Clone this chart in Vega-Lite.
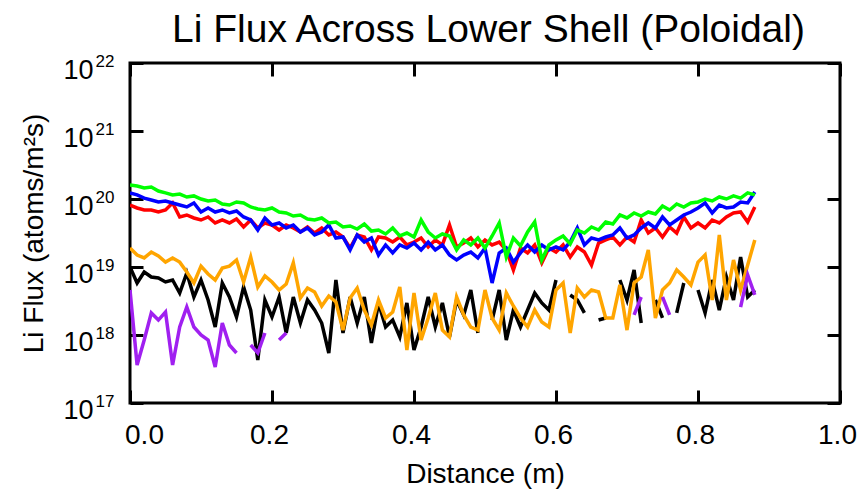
{
"$schema": "https://vega.github.io/schema/vega-lite/v6.json",
"width": 710, "height": 340,
"autosize": "none",
"padding": {"left": 130, "top": 63, "right": 23, "bottom": 89},
"background": "white",
"config": {"view": {"stroke": "black", "strokeWidth": 3}, "font": "Liberation Sans"},
"data": {"values": [
{"s":"black","x":0.00,"y":1.00e19},{"s":"black","x":0.01,"y":5.82e18},{"s":"black","x":0.02,"y":8.45e18},{"s":"black","x":0.03,"y":7.13e18},{"s":"black","x":0.04,"y":6.89e18},{"s":"black","x":0.05,"y":6.02e18},{"s":"black","x":0.06,"y":6.44e18},{"s":"black","x":0.07,"y":4.15e18},{"s":"black","x":0.08,"y":8.16e18},{"s":"black","x":0.09,"y":3.62e18},
{"s":"black","x":0.10,"y":6.44e18},{"s":"black","x":0.11,"y":3.27e18},{"s":"black","x":0.12,"y":1.31e18},{"s":"black","x":0.13,"y":5.82e18},{"s":"black","x":0.14,"y":3.62e18},{"s":"black","x":0.15,"y":1.84e18},{"s":"black","x":0.16,"y":5.08e18},{"s":"black","x":0.17,"y":2.33e18},{"s":"black","x":0.18,"y":4.29e17},{"s":"black","x":0.19,"y":3.27e18},
{"s":"black","x":0.20,"y":1.84e18},{"s":"black","x":0.21,"y":3.62e18},{"s":"black","x":0.22,"y":1.07e18},{"s":"black","x":0.23,"y":3.62e18},{"s":"black","x":0.24,"y":1.50e18},{"s":"black","x":0.25,"y":3.27e18},{"s":"black","x":0.26,"y":2.33e18},{"s":"black","x":0.27,"y":1.50e18},{"s":"black","x":0.28,"y":5.44e17},{"s":"black","x":0.29,"y":6.44e18},
{"s":"black","x":0.30,"y":1.07e18},{"s":"black","x":0.31,"y":3.62e18},{"s":"black","x":0.32,"y":1.50e18},{"s":"black","x":0.33,"y":3.62e18},{"s":"black","x":0.34,"y":7.63e17},{"s":"black","x":0.35,"y":2.96e18},{"s":"black","x":0.36,"y":1.31e18},{"s":"black","x":0.37,"y":1.66e18},{"s":"black","x":0.38,"y":9.35e17},{"s":"black","x":0.39,"y":2.96e18},
{"s":"black","x":0.40,"y":6.02e17},{"s":"black","x":0.41,"y":1.31e18},{"s":"black","x":0.42,"y":3.62e18},{"s":"black","x":0.43,"y":1.31e18},{"s":"black","x":0.44,"y":2.96e18},{"s":"black","x":0.45,"y":9.35e17},{"s":"black","x":0.46,"y":3.27e18},{"s":"black","x":0.47,"y":1.97e18},{"s":"black","x":0.48,"y":4.59e18},{"s":"black","x":0.49,"y":1.07e18},
{"s":"black","x":0.50,"y":null},{"s":"black","x":0.51,"y":1.66e18},{"s":"black","x":0.52,"y":4.59e18},{"s":"black","x":0.53,"y":8.45e17},{"s":"black","x":0.54,"y":2.33e18},{"s":"black","x":0.55,"y":1.31e18},{"s":"black","x":0.56,"y":2.33e18},{"s":"black","x":0.57,"y":4.15e18},{"s":"black","x":0.58,"y":2.96e18},{"s":"black","x":0.59,"y":2.33e18},
{"s":"black","x":0.60,"y":6.44e18},{"s":"black","x":0.61,"y":null},{"s":"black","x":0.62,"y":3.88e18},{"s":"black","x":0.63,"y":3.27e18},{"s":"black","x":0.64,"y":2.11e18},{"s":"black","x":0.65,"y":null},{"s":"black","x":0.66,"y":1.66e18},{"s":"black","x":0.67,"y":1.78e18},{"s":"black","x":0.68,"y":null},{"s":"black","x":0.69,"y":6.44e18},
{"s":"black","x":0.70,"y":3.27e18},{"s":"black","x":0.71,"y":9.04e18},{"s":"black","x":0.72,"y":1.50e18},{"s":"black","x":0.73,"y":null},{"s":"black","x":0.74,"y":3.27e18},{"s":"black","x":0.75,"y":1.78e18},{"s":"black","x":0.76,"y":null},{"s":"black","x":0.77,"y":2.11e18},{"s":"black","x":0.78,"y":5.82e18},{"s":"black","x":0.79,"y":null},
{"s":"black","x":0.80,"y":4.59e18},{"s":"black","x":0.81,"y":2.11e18},{"s":"black","x":0.82,"y":6.44e18},{"s":"black","x":0.83,"y":2.33e18},{"s":"black","x":0.84,"y":7.13e18},{"s":"black","x":0.85,"y":3.27e18},{"s":"black","x":0.86,"y":1.40e19},{"s":"black","x":0.87,"y":3.62e18},{"s":"black","x":0.88,"y":4.59e18},
{"s":"orange","x":0.00,"y":1.90e19},{"s":"orange","x":0.01,"y":1.50e19},{"s":"orange","x":0.02,"y":1.36e19},{"s":"orange","x":0.03,"y":1.66e19},{"s":"orange","x":0.04,"y":1.45e19},{"s":"orange","x":0.05,"y":1.18e19},{"s":"orange","x":0.06,"y":1.36e19},{"s":"orange","x":0.07,"y":1.18e19},{"s":"orange","x":0.08,"y":8.45e18},{"s":"orange","x":0.09,"y":5.82e18},
{"s":"orange","x":0.10,"y":1.03e19},{"s":"orange","x":0.11,"y":7.89e18},{"s":"orange","x":0.12,"y":6.44e18},{"s":"orange","x":0.13,"y":9.67e18},{"s":"orange","x":0.14,"y":1.03e19},{"s":"orange","x":0.15,"y":1.27e19},{"s":"orange","x":0.16,"y":6.02e18},{"s":"orange","x":0.17,"y":1.40e19},{"s":"orange","x":0.18,"y":5.08e18},{"s":"orange","x":0.19,"y":7.38e18},
{"s":"orange","x":0.20,"y":6.02e18},{"s":"orange","x":0.21,"y":4.59e18},{"s":"orange","x":0.22,"y":5.62e18},{"s":"orange","x":0.23,"y":1.15e19},{"s":"orange","x":0.24,"y":3.50e18},{"s":"orange","x":0.25,"y":4.91e18},{"s":"orange","x":0.26,"y":4.29e18},{"s":"orange","x":0.27,"y":2.67e18},{"s":"orange","x":0.28,"y":3.75e18},{"s":"orange","x":0.29,"y":3.06e18},
{"s":"orange","x":0.30,"y":1.18e18},{"s":"orange","x":0.31,"y":3.50e18},{"s":"orange","x":0.32,"y":4.91e18},{"s":"orange","x":0.33,"y":2.33e18},{"s":"orange","x":0.34,"y":1.40e18},{"s":"orange","x":0.35,"y":3.27e18},{"s":"orange","x":0.36,"y":1.78e18},{"s":"orange","x":0.37,"y":2.18e18},{"s":"orange","x":0.38,"y":5.08e18},{"s":"orange","x":0.39,"y":6.02e17},
{"s":"orange","x":0.40,"y":4.15e18},{"s":"orange","x":0.41,"y":8.45e17},{"s":"orange","x":0.42,"y":1.78e18},{"s":"orange","x":0.43,"y":4.15e18},{"s":"orange","x":0.44,"y":1.18e18},{"s":"orange","x":0.45,"y":9.35e17},{"s":"orange","x":0.46,"y":3.62e18},{"s":"orange","x":0.47,"y":1.97e18},{"s":"orange","x":0.48,"y":1.31e18},{"s":"orange","x":0.49,"y":1.18e18},
{"s":"orange","x":0.50,"y":4.59e18},{"s":"orange","x":0.51,"y":1.78e18},{"s":"orange","x":0.52,"y":1.18e18},{"s":"orange","x":0.53,"y":4.15e18},{"s":"orange","x":0.54,"y":2.67e18},{"s":"orange","x":0.55,"y":1.78e18},{"s":"orange","x":0.56,"y":1.31e18},{"s":"orange","x":0.57,"y":2.33e18},{"s":"orange","x":0.58,"y":1.55e18},{"s":"orange","x":0.59,"y":1.31e18},
{"s":"orange","x":0.60,"y":4.59e18},{"s":"orange","x":0.61,"y":5.82e18},{"s":"orange","x":0.62,"y":1.07e18},{"s":"orange","x":0.63,"y":4.91e18},{"s":"orange","x":0.64,"y":3.62e18},{"s":"orange","x":0.65,"y":4.59e18},{"s":"orange","x":0.66,"y":4.29e18},{"s":"orange","x":0.67,"y":1.78e18},{"s":"orange","x":0.68,"y":1.78e18},{"s":"orange","x":0.69,"y":5.44e18},
{"s":"orange","x":0.70,"y":1.18e18},{"s":"orange","x":0.71,"y":5.82e18},{"s":"orange","x":0.72,"y":7.13e18},{"s":"orange","x":0.73,"y":1.78e19},{"s":"orange","x":0.74,"y":1.78e18},{"s":"orange","x":0.75,"y":4.59e18},{"s":"orange","x":0.76,"y":5.82e18},{"s":"orange","x":0.77,"y":9.04e18},{"s":"orange","x":0.78,"y":7.13e18},{"s":"orange","x":0.79,"y":5.44e18},
{"s":"orange","x":0.80,"y":1.18e19},{"s":"orange","x":0.81,"y":1.50e19},{"s":"orange","x":0.82,"y":3.27e18},{"s":"orange","x":0.83,"y":2.96e19},{"s":"orange","x":0.84,"y":3.27e18},{"s":"orange","x":0.85,"y":1.27e19},{"s":"orange","x":0.86,"y":4.59e18},{"s":"orange","x":0.87,"y":1.07e19},{"s":"orange","x":0.88,"y":2.50e19},
{"s":"purple","x":0.00,"y":4.59e18},{"s":"purple","x":0.01,"y":3.62e17},{"s":"purple","x":0.02,"y":8.45e17},{"s":"purple","x":0.03,"y":2.11e18},{"s":"purple","x":0.04,"y":1.66e18},{"s":"purple","x":0.05,"y":2.18e18},{"s":"purple","x":0.06,"y":3.62e17},{"s":"purple","x":0.07,"y":1.31e18},{"s":"purple","x":0.08,"y":2.58e18},{"s":"purple","x":0.09,"y":1.31e18},
{"s":"purple","x":0.10,"y":1.00e18},{"s":"purple","x":0.11,"y":8.45e17},{"s":"purple","x":0.12,"y":3.38e17},{"s":"purple","x":0.13,"y":1.50e18},{"s":"purple","x":0.14,"y":7.13e17},{"s":"purple","x":0.15,"y":5.44e17},{"s":"purple","x":0.16,"y":null},{"s":"purple","x":0.17,"y":7.13e17},{"s":"purple","x":0.18,"y":5.44e17},{"s":"purple","x":0.19,"y":1.07e18},
{"s":"purple","x":0.20,"y":null},{"s":"purple","x":0.21,"y":8.45e17},{"s":"purple","x":0.22,"y":1.07e18},{"s":"purple","x":0.23,"y":null},
{"s":"purple","x":0.71,"y":1.97e18},{"s":"purple","x":0.72,"y":3.62e18},{"s":"purple","x":0.73,"y":null},{"s":"purple","x":0.75,"y":3.62e18},{"s":"purple","x":0.76,"y":1.97e18},{"s":"purple","x":0.77,"y":null},{"s":"purple","x":0.86,"y":2.58e18},{"s":"purple","x":0.87,"y":7.63e18},{"s":"purple","x":0.88,"y":3.88e18},
{"s":"red","x":0.00,"y":8.16e19},{"s":"red","x":0.01,"y":7.38e19},{"s":"red","x":0.02,"y":6.89e19},{"s":"red","x":0.03,"y":6.89e19},{"s":"red","x":0.04,"y":6.44e19},{"s":"red","x":0.05,"y":6.89e19},{"s":"red","x":0.06,"y":8.74e19},{"s":"red","x":0.07,"y":5.44e19},{"s":"red","x":0.08,"y":5.82e19},{"s":"red","x":0.09,"y":5.26e19},
{"s":"red","x":0.10,"y":4.91e19},{"s":"red","x":0.11,"y":5.44e19},{"s":"red","x":0.12,"y":4.44e19},{"s":"red","x":0.13,"y":4.91e19},{"s":"red","x":0.14,"y":4.44e19},{"s":"red","x":0.15,"y":5.08e19},{"s":"red","x":0.16,"y":3.88e19},{"s":"red","x":0.17,"y":4.91e19},{"s":"red","x":0.18,"y":3.75e19},{"s":"red","x":0.19,"y":4.44e19},
{"s":"red","x":0.20,"y":4.15e19},{"s":"red","x":0.21,"y":3.50e19},{"s":"red","x":0.22,"y":4.15e19},{"s":"red","x":0.23,"y":3.75e19},{"s":"red","x":0.24,"y":3.27e19},{"s":"red","x":0.25,"y":3.88e19},{"s":"red","x":0.26,"y":3.16e19},{"s":"red","x":0.27,"y":3.75e19},{"s":"red","x":0.28,"y":2.96e19},{"s":"red","x":0.29,"y":3.27e19},
{"s":"red","x":0.30,"y":2.76e19},{"s":"red","x":0.31,"y":1.90e19},{"s":"red","x":0.32,"y":2.96e19},{"s":"red","x":0.33,"y":2.76e19},{"s":"red","x":0.34,"y":1.78e19},{"s":"red","x":0.35,"y":2.76e19},{"s":"red","x":0.36,"y":2.67e19},{"s":"red","x":0.37,"y":2.33e19},{"s":"red","x":0.38,"y":2.76e19},{"s":"red","x":0.39,"y":2.11e19},
{"s":"red","x":0.40,"y":2.33e19},{"s":"red","x":0.41,"y":2.67e19},{"s":"red","x":0.42,"y":1.97e19},{"s":"red","x":0.43,"y":2.50e19},{"s":"red","x":0.44,"y":2.11e19},{"s":"red","x":0.45,"y":4.15e19},{"s":"red","x":0.46,"y":1.97e19},{"s":"red","x":0.47,"y":2.25e19},{"s":"red","x":0.48,"y":2.67e19},{"s":"red","x":0.49,"y":1.97e19},
{"s":"red","x":0.50,"y":2.50e19},{"s":"red","x":0.51,"y":2.11e19},{"s":"red","x":0.52,"y":2.33e19},{"s":"red","x":0.53,"y":1.78e19},{"s":"red","x":0.54,"y":9.04e18},{"s":"red","x":0.55,"y":1.90e19},{"s":"red","x":0.56,"y":1.61e19},{"s":"red","x":0.57,"y":2.11e19},{"s":"red","x":0.58,"y":1.15e19},{"s":"red","x":0.59,"y":1.90e19},
{"s":"red","x":0.60,"y":1.66e19},{"s":"red","x":0.61,"y":2.11e19},{"s":"red","x":0.62,"y":1.40e19},{"s":"red","x":0.63,"y":1.97e19},{"s":"red","x":0.64,"y":1.66e19},{"s":"red","x":0.65,"y":1.07e19},{"s":"red","x":0.66,"y":2.25e19},{"s":"red","x":0.67,"y":2.50e19},{"s":"red","x":0.68,"y":2.76e19},{"s":"red","x":0.69,"y":2.11e19},
{"s":"red","x":0.70,"y":2.76e19},{"s":"red","x":0.71,"y":2.33e19},{"s":"red","x":0.72,"y":4.91e19},{"s":"red","x":0.73,"y":3.16e19},{"s":"red","x":0.74,"y":3.75e19},{"s":"red","x":0.75,"y":2.76e19},{"s":"red","x":0.76,"y":3.88e19},{"s":"red","x":0.77,"y":3.16e19},{"s":"red","x":0.78,"y":5.44e19},{"s":"red","x":0.79,"y":3.75e19},
{"s":"red","x":0.80,"y":4.44e19},{"s":"red","x":0.81,"y":3.75e19},{"s":"red","x":0.82,"y":4.91e19},{"s":"red","x":0.83,"y":4.44e19},{"s":"red","x":0.84,"y":5.44e19},{"s":"red","x":0.85,"y":6.23e19},{"s":"red","x":0.86,"y":6.44e19},{"s":"red","x":0.87,"y":4.59e19},{"s":"red","x":0.88,"y":7.63e19},
{"s":"blue","x":0.00,"y":1.23e20},{"s":"blue","x":0.01,"y":1.15e20},{"s":"blue","x":0.02,"y":1.03e20},{"s":"blue","x":0.03,"y":9.67e19},{"s":"blue","x":0.04,"y":9.04e19},{"s":"blue","x":0.05,"y":9.35e19},{"s":"blue","x":0.06,"y":8.74e19},{"s":"blue","x":0.07,"y":8.16e19},{"s":"blue","x":0.08,"y":7.63e19},{"s":"blue","x":0.09,"y":8.74e19},
{"s":"blue","x":0.10,"y":6.44e19},{"s":"blue","x":0.11,"y":7.38e19},{"s":"blue","x":0.12,"y":6.44e19},{"s":"blue","x":0.13,"y":6.89e19},{"s":"blue","x":0.14,"y":6.23e19},{"s":"blue","x":0.15,"y":6.66e19},{"s":"blue","x":0.16,"y":5.44e19},{"s":"blue","x":0.17,"y":4.91e19},{"s":"blue","x":0.18,"y":3.50e19},{"s":"blue","x":0.19,"y":5.26e19},
{"s":"blue","x":0.20,"y":4.15e19},{"s":"blue","x":0.21,"y":4.44e19},{"s":"blue","x":0.22,"y":3.75e19},{"s":"blue","x":0.23,"y":4.15e19},{"s":"blue","x":0.24,"y":3.27e19},{"s":"blue","x":0.25,"y":3.75e19},{"s":"blue","x":0.26,"y":2.96e19},{"s":"blue","x":0.27,"y":3.27e19},{"s":"blue","x":0.28,"y":4.15e19},{"s":"blue","x":0.29,"y":2.67e19},
{"s":"blue","x":0.30,"y":2.76e19},{"s":"blue","x":0.31,"y":1.78e19},{"s":"blue","x":0.32,"y":2.96e19},{"s":"blue","x":0.33,"y":2.33e19},{"s":"blue","x":0.34,"y":2.67e19},{"s":"blue","x":0.35,"y":1.50e19},{"s":"blue","x":0.36,"y":2.11e19},{"s":"blue","x":0.37,"y":1.61e19},{"s":"blue","x":0.38,"y":2.11e19},{"s":"blue","x":0.39,"y":1.90e19},
{"s":"blue","x":0.40,"y":2.25e19},{"s":"blue","x":0.41,"y":1.78e19},{"s":"blue","x":0.42,"y":2.33e19},{"s":"blue","x":0.43,"y":1.78e19},{"s":"blue","x":0.44,"y":2.11e19},{"s":"blue","x":0.45,"y":1.50e19},{"s":"blue","x":0.46,"y":1.27e19},{"s":"blue","x":0.47,"y":1.50e19},{"s":"blue","x":0.48,"y":1.66e19},{"s":"blue","x":0.49,"y":1.36e19},
{"s":"blue","x":0.50,"y":1.90e19},{"s":"blue","x":0.51,"y":5.82e18},{"s":"blue","x":0.52,"y":1.61e19},{"s":"blue","x":0.53,"y":1.90e19},{"s":"blue","x":0.54,"y":1.18e19},{"s":"blue","x":0.55,"y":1.61e19},{"s":"blue","x":0.56,"y":2.11e19},{"s":"blue","x":0.57,"y":1.66e19},{"s":"blue","x":0.58,"y":2.11e19},{"s":"blue","x":0.59,"y":1.78e19},
{"s":"blue","x":0.60,"y":1.97e19},{"s":"blue","x":0.61,"y":1.78e19},{"s":"blue","x":0.62,"y":2.33e19},{"s":"blue","x":0.63,"y":3.75e19},{"s":"blue","x":0.64,"y":2.11e19},{"s":"blue","x":0.65,"y":2.67e19},{"s":"blue","x":0.66,"y":2.50e19},{"s":"blue","x":0.67,"y":2.76e19},{"s":"blue","x":0.68,"y":2.96e19},{"s":"blue","x":0.69,"y":3.75e19},
{"s":"blue","x":0.70,"y":2.67e19},{"s":"blue","x":0.71,"y":2.96e19},{"s":"blue","x":0.72,"y":3.75e19},{"s":"blue","x":0.73,"y":4.44e19},{"s":"blue","x":0.74,"y":3.75e19},{"s":"blue","x":0.75,"y":5.44e19},{"s":"blue","x":0.76,"y":4.15e19},{"s":"blue","x":0.77,"y":4.91e19},{"s":"blue","x":0.78,"y":5.82e19},{"s":"blue","x":0.79,"y":6.44e19},
{"s":"blue","x":0.80,"y":7.38e19},{"s":"blue","x":0.81,"y":8.74e19},{"s":"blue","x":0.82,"y":6.23e19},{"s":"blue","x":0.83,"y":8.16e19},{"s":"blue","x":0.84,"y":7.38e19},{"s":"blue","x":0.85,"y":7.63e19},{"s":"blue","x":0.86,"y":9.04e19},{"s":"blue","x":0.87,"y":8.74e19},{"s":"blue","x":0.88,"y":1.27e20},
{"s":"green","x":0.00,"y":1.61e20},{"s":"green","x":0.01,"y":1.55e20},{"s":"green","x":0.02,"y":1.45e20},{"s":"green","x":0.03,"y":1.50e20},{"s":"green","x":0.04,"y":1.31e20},{"s":"green","x":0.05,"y":1.23e20},{"s":"green","x":0.06,"y":1.15e20},{"s":"green","x":0.07,"y":1.18e20},{"s":"green","x":0.08,"y":1.07e20},{"s":"green","x":0.09,"y":1.11e20},
{"s":"green","x":0.10,"y":1.00e20},{"s":"green","x":0.11,"y":9.35e19},{"s":"green","x":0.12,"y":9.67e19},{"s":"green","x":0.13,"y":8.45e19},{"s":"green","x":0.14,"y":8.16e19},{"s":"green","x":0.15,"y":9.04e19},{"s":"green","x":0.16,"y":8.74e19},{"s":"green","x":0.17,"y":7.63e19},{"s":"green","x":0.18,"y":7.13e19},{"s":"green","x":0.19,"y":6.89e19},
{"s":"green","x":0.20,"y":7.38e19},{"s":"green","x":0.21,"y":6.44e19},{"s":"green","x":0.22,"y":6.23e19},{"s":"green","x":0.23,"y":5.62e19},{"s":"green","x":0.24,"y":5.82e19},{"s":"green","x":0.25,"y":5.08e19},{"s":"green","x":0.26,"y":4.91e19},{"s":"green","x":0.27,"y":5.26e19},{"s":"green","x":0.28,"y":4.44e19},{"s":"green","x":0.29,"y":4.59e19},
{"s":"green","x":0.30,"y":3.88e19},{"s":"green","x":0.31,"y":4.01e19},{"s":"green","x":0.32,"y":3.62e19},{"s":"green","x":0.33,"y":4.29e19},{"s":"green","x":0.34,"y":3.38e19},{"s":"green","x":0.35,"y":3.50e19},{"s":"green","x":0.36,"y":3.06e19},{"s":"green","x":0.37,"y":3.75e19},{"s":"green","x":0.38,"y":2.86e19},{"s":"green","x":0.39,"y":3.16e19},
{"s":"green","x":0.40,"y":2.76e19},{"s":"green","x":0.41,"y":4.91e19},{"s":"green","x":0.42,"y":3.27e19},{"s":"green","x":0.43,"y":2.67e19},{"s":"green","x":0.44,"y":3.06e19},{"s":"green","x":0.45,"y":2.86e19},{"s":"green","x":0.46,"y":1.78e19},{"s":"green","x":0.47,"y":2.50e19},{"s":"green","x":0.48,"y":2.11e19},{"s":"green","x":0.49,"y":2.67e19},
{"s":"green","x":0.50,"y":1.90e19},{"s":"green","x":0.51,"y":2.86e19},{"s":"green","x":0.52,"y":4.44e19},{"s":"green","x":0.53,"y":1.40e19},{"s":"green","x":0.54,"y":2.67e19},{"s":"green","x":0.55,"y":2.04e19},{"s":"green","x":0.56,"y":3.27e19},{"s":"green","x":0.57,"y":4.59e19},{"s":"green","x":0.58,"y":1.27e19},{"s":"green","x":0.59,"y":2.11e19},
{"s":"green","x":0.60,"y":2.50e19},{"s":"green","x":0.61,"y":2.86e19},{"s":"green","x":0.62,"y":2.18e19},{"s":"green","x":0.63,"y":3.50e19},{"s":"green","x":0.64,"y":3.16e19},{"s":"green","x":0.65,"y":3.88e19},{"s":"green","x":0.66,"y":3.50e19},{"s":"green","x":0.67,"y":4.59e19},{"s":"green","x":0.68,"y":4.29e19},{"s":"green","x":0.69,"y":5.82e19},
{"s":"green","x":0.70,"y":5.26e19},{"s":"green","x":0.71,"y":6.23e19},{"s":"green","x":0.72,"y":5.62e19},{"s":"green","x":0.73,"y":6.44e19},{"s":"green","x":0.74,"y":6.02e19},{"s":"green","x":0.75,"y":7.89e19},{"s":"green","x":0.76,"y":6.89e19},{"s":"green","x":0.77,"y":8.45e19},{"s":"green","x":0.78,"y":7.63e19},{"s":"green","x":0.79,"y":8.74e19},
{"s":"green","x":0.80,"y":9.04e19},{"s":"green","x":0.81,"y":1.00e20},{"s":"green","x":0.82,"y":9.35e19},{"s":"green","x":0.83,"y":1.07e20},{"s":"green","x":0.84,"y":1.00e20},{"s":"green","x":0.85,"y":1.11e20},{"s":"green","x":0.86,"y":1.03e20},{"s":"green","x":0.87,"y":1.23e20},{"s":"green","x":0.88,"y":1.15e20}
]},
"layer": [
{"mark": {"type": "line", "strokeWidth": 3.5, "invalid": "break-paths-filter-domains", "clip": true},
 "encoding": {
  "x": {"field": "x", "type": "quantitative", "scale": {"domain": [0, 1], "nice": false, "zero": false},
   "axis": {"orient": "bottom", "values": [0, 0.2, 0.4, 0.6, 0.8, 1], "format": ".1f", "domain": false, "grid": false, "ticks": true, "tickSize": -13, "tickWidth": 3, "tickColor": "black", "labelFlush": false, "labelOverlap": false, "labelFont": "Liberation Sans", "labelFontSize": 28, "labelColor": "black", "labelBaseline": "alphabetic", "labelPadding": 53, "labelOffset": {"condition": {"test": "datum.value == 0", "value": 14}, "value": -3}, "title": "Distance (m)", "titleFont": "Liberation Sans", "titleFontSize": 28, "titleFontWeight": "normal", "titleColor": "black", "titleX": 355, "titleY": 79, "titleBaseline": "alphabetic", "titleAlign": "center"}},
  "y": {"field": "y", "type": "quantitative", "scale": {"type": "log", "domain": [1e17, 1e22], "nice": false},
   "axis": {"orient": "left", "values": [1e17, 1e18, 1e19, 1e20, 1e21, 1e22], "labelExpr": "'10'", "domain": false, "grid": false, "ticks": true, "tickSize": -13, "tickWidth": 3, "tickColor": "black", "labelFont": "Liberation Sans", "labelFontSize": 27, "labelColor": "black", "labelAlign": "right", "labelBaseline": "alphabetic", "labelOffset": 15, "labelPadding": 50, "labelOverlap": false, "labelFlush": false, "title": "Li Flux (atoms/m²s)", "titleFont": "Liberation Sans", "titleFontSize": 28, "titleFontWeight": "normal", "titleColor": "black", "titleX": -88, "titleY": 170, "titleAngle": -90, "titleBaseline": "alphabetic", "titleAlign": "center"}},
  "color": {"field": "s", "type": "nominal", "scale": {"domain": ["black", "orange", "purple", "red", "blue", "green"], "range": ["#000000", "#ffa500", "#a020f0", "#ff0000", "#0000ff", "#00ff00"]}, "legend": null}
 }},
{"mark": {"type": "point", "opacity": 0},
 "encoding": {
  "x": {"field": "x", "type": "quantitative", "scale": {"domain": [0, 1], "nice": false, "zero": false},
   "axis": {"orient": "top", "values": [0, 0.2, 0.4, 0.6, 0.8, 1], "labels": false, "domain": false, "grid": false, "ticks": true, "tickSize": -13, "tickWidth": 3, "tickColor": "black", "title": "Li Flux Across Lower Shell (Poloidal)", "titleFont": "Liberation Sans", "titleFontSize": 39, "titleFontWeight": "normal", "titleColor": "black", "titleX": 358, "titleY": -22, "titleBaseline": "alphabetic", "titleAlign": "center"}},
  "y": {"field": "y", "type": "quantitative", "scale": {"type": "log", "domain": [1e17, 1e22], "nice": false},
   "axis": {"orient": "right", "values": [1e17, 1e18, 1e19, 1e20, 1e21, 1e22], "labels": false, "domain": false, "grid": false, "ticks": true, "tickSize": -13, "tickWidth": 3, "tickColor": "black", "title": null}}
 }},
{"mark": {"type": "point", "opacity": 0},
 "encoding": {
  "x": {"field": "x", "type": "quantitative", "scale": {"domain": [0, 1], "nice": false, "zero": false}, "axis": null},
  "y": {"field": "y", "type": "quantitative", "scale": {"type": "log", "domain": [1e17, 1e22], "nice": false},
   "axis": {"orient": "left", "values": [1e17, 1e18, 1e19, 1e20, 1e21, 1e22], "labelExpr": "'' + round(log(datum.value) / LN10)", "domain": false, "grid": false, "ticks": false, "labelFont": "Liberation Sans", "labelFontSize": 17, "labelColor": "black", "labelAlign": "left", "labelBaseline": "alphabetic", "labelOffset": 3, "labelPadding": 35, "labelOverlap": false, "labelFlush": false, "title": null}}
 }}
],
"resolve": {"axis": {"x": "independent", "y": "independent"}}
}
